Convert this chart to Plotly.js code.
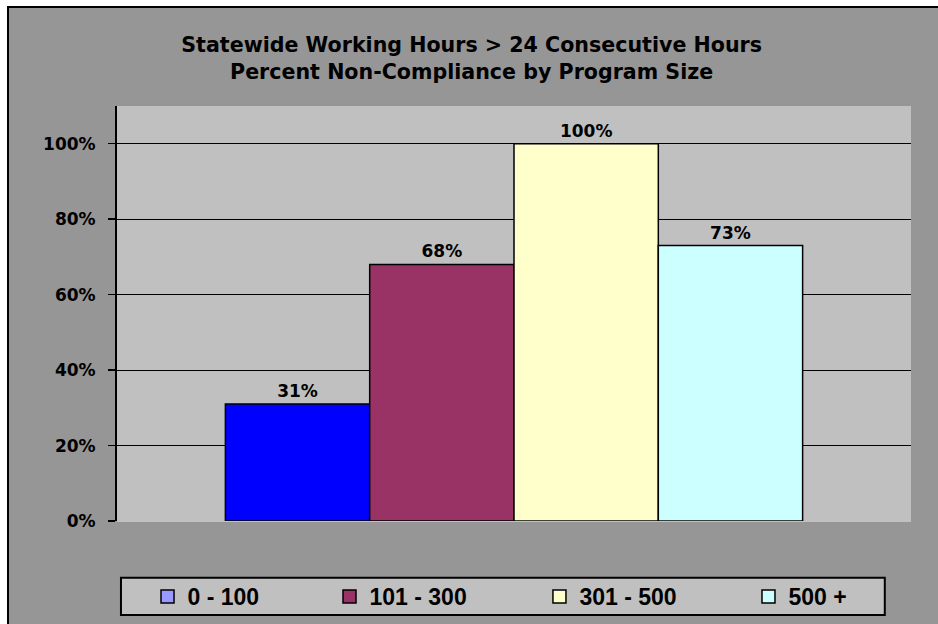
<!DOCTYPE html>
<html>
<head>
<meta charset="utf-8">
<script src="https://cdn.plot.ly/plotly-3.0.1.min.js"></script>
<style>
  html, body { margin: 0; padding: 0; background: #ffffff; width: 938px; height: 624px; overflow: hidden; }
  #frame { position: absolute; left: 7px; top: 6px; width: 929px; height: 616px;
           border-left: 2px solid #000; border-top: 2px solid #000; background: #969696; }
  #chart { width: 929px; height: 616px; }
</style>
</head>
<body>
<div id="frame"><div id="chart"></div></div>
<script>
// ---- data ----
const categories = ['Statewide'];
const seriesNames = ['0 - 100', '101 - 300', '301 - 500', '500 +'];
const seriesValues = [31, 68, 100, 73];
const barColors = ['#0000ff', '#993366', '#ffffcc', '#ccffff'];
const legendColors = ['#9999ff', '#993366', '#ffffcc', '#ccffff'];
const yTickVals = [0, 20, 40, 60, 80, 100];
const yTickText = ['0%', '20%', '40%', '60%', '80%', '100%'];

const legendIds = ['legend', 'legend2', 'legend3', 'legend4'];
const legendX = [0.1491, 0.3450, 0.5710, 0.7960];

const traces = [];
seriesNames.forEach((name, i) => {
  traces.push({
    type: 'bar',
    name: name,
    x: categories,
    y: [seriesValues[i]],
    text: [seriesValues[i] + '%'],
    textinfo: 'text',
    marker: { color: barColors[i], line: { color: '#000000', width: 1.5 } },
    textposition: 'outside',
    textfont: { family: 'DejaVu Sans', size: 17, color: '#000000', weight: 'bold' },
    cliponaxis: false,
    showlegend: false,
    hoverinfo: 'skip'
  });
});
seriesNames.forEach((name, i) => {
  traces.push({
    type: 'scatter',
    mode: 'markers',
    name: name,
    x: categories,
    y: [null],
    marker: { symbol: 'square', size: 13, color: legendColors[i], line: { color: '#000000', width: 1.5 } },
    legend: legendIds[i],
    showlegend: true,
    hoverinfo: 'skip'
  });
});

const legendBase = {
  xref: 'container', yref: 'container', y: 0.0446, xanchor: 'left', yanchor: 'middle',
  bgcolor: 'rgba(0,0,0,0)', borderwidth: 0, orientation: 'h',
  font: { family: 'Liberation Sans, Arial', size: 23, color: '#000000', weight: 'bold' },
  itemclick: false, itemdoubleclick: false
};

const layout = {
  width: 929, height: 616,
  margin: { l: 108, r: 27, t: 98, b: 103, pad: 0 },
  paper_bgcolor: '#969696',
  plot_bgcolor: '#c0c0c0',
  barmode: 'group',
  bargap: 0.273,
  bargroupgap: 0,
  title: {
    text: 'Statewide Working Hours > 24 Consecutive Hours<br>Percent Non-Compliance by Program Size',
    font: { family: 'DejaVu Sans', size: 20.6, color: '#000000', weight: 'bold' },
    xref: 'container', yref: 'container', x: 0.498, xanchor: 'center', y: 0.929, yanchor: 'top'
  },
  xaxis: {
    type: 'category', showticklabels: false, ticks: '', showline: false,
    showgrid: false, zeroline: false, fixedrange: true
  },
  yaxis: {
    range: [0, 110], tickvals: yTickVals, ticktext: yTickText,
    showgrid: true, gridcolor: '#000000', gridwidth: 1,
    zeroline: true, zerolinecolor: '#c0c0c0', zerolinewidth: 1,
    showline: true, linecolor: '#000000', linewidth: 2,
    ticks: 'outside', ticklen: 7, tickwidth: 1.5, tickcolor: '#000000',
    ticklabelstandoff: 9,
    tickfont: { family: 'DejaVu Sans', size: 17, color: '#000000', weight: 'bold' },
    fixedrange: true
  },
  shapes: [{
    type: 'rect', xref: 'paper', yref: 'paper',
    x0: 0.005, x1: 0.967, y0: -0.2265, y1: -0.137,
    fillcolor: '#c0c0c0', line: { color: '#000000', width: 2 }, layer: 'below'
  }],
  showlegend: true
};
legendIds.forEach((id, i) => {
  layout[id] = Object.assign({}, legendBase, { x: legendX[i] });
});

Plotly.newPlot('chart', traces, layout, { displayModeBar: false, staticPlot: true });
</script>
</body>
</html>
